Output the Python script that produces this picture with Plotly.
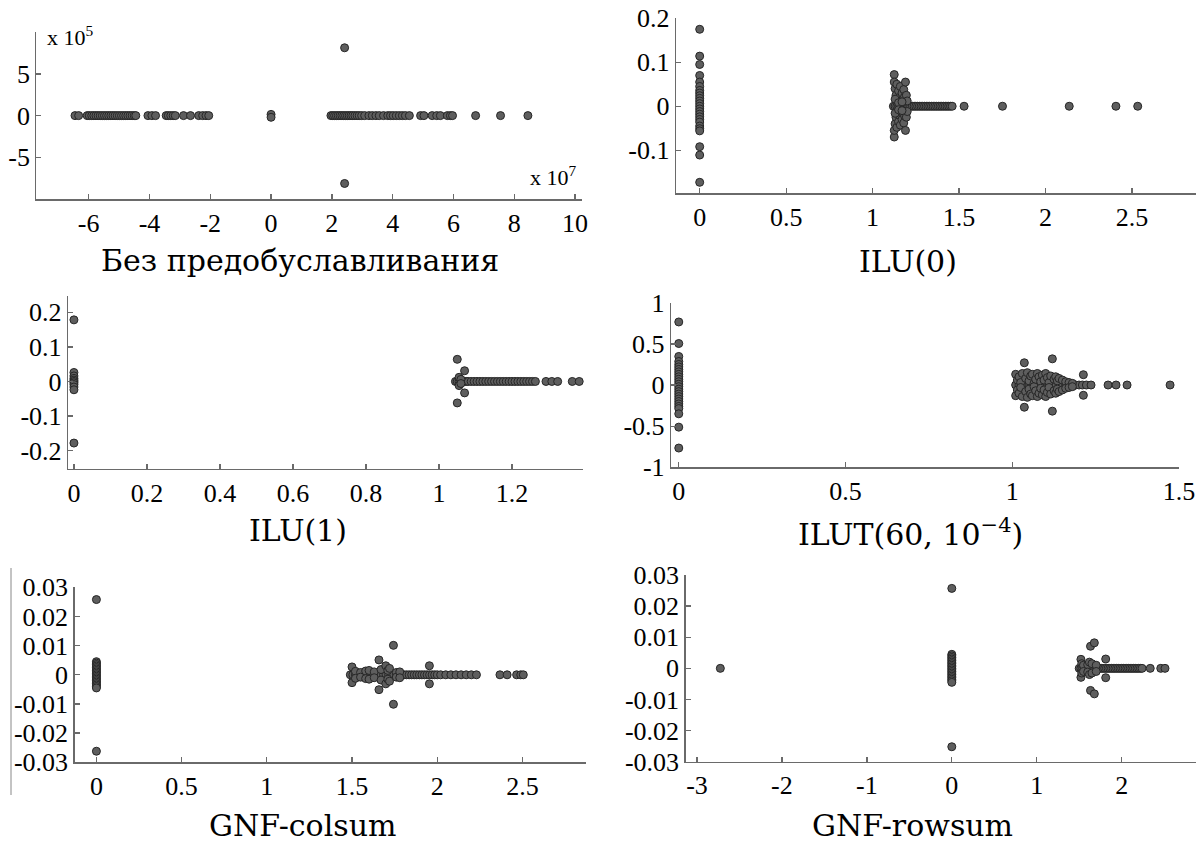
import plotly.graph_objects as go

W, H = 1196, 845

# ---------------- data ----------------
titles = ["Без предобуславливания", "ILU(0)", "ILU(1)",
          "ILUT(60, 10<sup>−4</sup>)", "GNF-colsum", "GNF-rowsum"]

# Panel 1 (x in units of 1e7, y in units of 1e5)
p1_real = [-6.45, -6.33, -6.05, -5.98, -5.9, -5.83, -5.76, -5.69, -5.62, -5.55, -5.48,
           -5.41, -5.34, -5.27, -5.2, -5.13, -5.06, -4.99, -4.92, -4.85, -4.78, -4.71,
           -4.64, -4.57, -4.5, -4.45, -4.05, -3.92, -3.8, -3.45, -3.38, -3.3, -3.22,
           -3.15, -2.88, -2.65, -2.38, -2.25, -2.14, -2.05,
           1.97, 2.03, 2.09, 2.15, 2.21, 2.27, 2.33, 2.39, 2.45, 2.51, 2.57, 2.63, 2.69,
           2.76, 2.83, 2.9, 2.98, 3.08, 3.22, 3.33, 3.45, 3.56, 3.7, 3.84, 3.93, 4.02,
           4.12, 4.22, 4.32, 4.42, 4.55, 4.92, 5.03, 5.3, 5.45, 5.57, 5.8, 5.9, 5.97,
           6.73, 7.55, 8.45]
p1_cx = [0.0, 0.0, 2.42, 2.42]
p1_cy = [0.15, -0.2, 8.15, -8.15]

# Panel 2: ILU(0)
p2_real = [1.12, 1.13, 1.14, 1.15, 1.16, 1.17, 1.18, 1.19, 1.2, 1.21, 1.22, 1.23, 1.24,
           1.25, 1.26, 1.27, 1.28, 1.29, 1.3, 1.31, 1.32, 1.33, 1.34, 1.35, 1.36, 1.37,
           1.38, 1.39, 1.4, 1.41, 1.42, 1.43, 1.44, 1.45, 1.46, 1.529, 1.751, 2.137,
           2.407, 2.533]
p2_cx = [0.0, 0.0, 0.0, 0.0, 0.0, 0.0, 0.0, 0.0, 0.0, 0.0, 0.0, 0.0, 0.0, 0.0, 0.0,
         0.0, 0.0, 0.0, 0.0, 0.0, 0.0, 0.0, 0.0, 0.0, 0.0,
         1.125, 1.125, 1.125, 1.125, 1.13, 1.13, 1.135, 1.135, 1.14, 1.14, 1.145, 1.145,
         1.15, 1.15, 1.155, 1.155, 1.16, 1.16, 1.165, 1.165, 1.17, 1.17, 1.175, 1.175,
         1.18, 1.18, 1.185, 1.185, 1.19, 1.19, 1.195, 1.195, 1.2, 1.2, 1.13, 1.13,
         1.15, 1.15, 1.17, 1.17]
p2_cy = [0.175, 0.114, 0.095, 0.07, 0.055, 0.045, 0.036, 0.03, 0.024, 0.018, 0.012,
         0.006, 0.0, -0.006, -0.012, -0.018, -0.024, -0.03, -0.036, -0.045, -0.051,
         -0.056, -0.092, -0.111, -0.173,
         0.072, -0.07, 0.055, -0.055, 0.04, -0.04, 0.025, -0.025, 0.05, -0.048, 0.012,
         -0.012, 0.035, -0.035, 0.02, -0.02, 0.045, -0.043, 0.008, -0.008, 0.03, -0.03,
         0.015, -0.015, 0.038, -0.038, 0.022, -0.022, 0.055, -0.055, 0.025, -0.025,
         0.012, -0.012, 0.016, -0.016, 0.008, -0.008, 0.01, -0.01]

# Panel 3: ILU(1)
p3_real = [1.045, 1.05, 1.055, 1.06, 1.065, 1.07, 1.075, 1.08, 1.088, 1.096, 1.104,
           1.112, 1.12, 1.128, 1.136, 1.144, 1.152, 1.16, 1.168, 1.176, 1.184, 1.192,
           1.2, 1.208, 1.216, 1.224, 1.232, 1.24, 1.248, 1.256, 1.264, 1.293, 1.309,
           1.325, 1.365, 1.384]
p3_cx = [0.0, 0.0, 0.0, 0.0, 0.0, 0.0, 0.0, 0.0, 0.0, 0.0, 0.0,
         1.05, 1.05, 1.07, 1.07, 1.055, 1.055, 1.06, 1.06]
p3_cy = [0.178, 0.026, 0.016, 0.009, 0.004, 0.0, -0.004, -0.009, -0.016, -0.024, -0.178,
         0.064, -0.062, 0.031, -0.033, 0.012, -0.012, 0.006, -0.006]

# Panel 4: ILUT(60, 1e-4)
p4_real = [1.01, 1.02, 1.03, 1.04, 1.05, 1.06, 1.07, 1.08, 1.09, 1.1, 1.11, 1.12, 1.13,
           1.14, 1.15, 1.16, 1.17, 1.18, 1.19, 1.2, 1.21, 1.222, 1.236, 1.287, 1.311,
           1.344, 1.473]
p4_cx = [0.0, 0.0, 0.0, 0.0, 0.0, 0.0, 0.0, 0.0, 0.0, 0.0, 0.0, 0.0, 0.0, 0.0, 0.0,
         0.0, 0.0, 0.0, 0.0, 0.0, 0.0, 0.0, 0.0, 0.0, 0.0, 0.0,
         1.01, 1.01, 1.015, 1.015, 1.02, 1.02, 1.025, 1.025, 1.03, 1.03, 1.036, 1.036,
         1.04, 1.04, 1.045, 1.045, 1.05, 1.05, 1.055, 1.055, 1.06, 1.06, 1.065, 1.065,
         1.07, 1.07, 1.075, 1.075, 1.08, 1.08, 1.085, 1.085, 1.09, 1.09, 1.095, 1.095,
         1.1, 1.1, 1.105, 1.105, 1.11, 1.11, 1.115, 1.115, 1.12, 1.12, 1.125, 1.125,
         1.13, 1.13, 1.135, 1.135, 1.14, 1.14, 1.15, 1.15, 1.16, 1.16, 1.17, 1.17,
         1.18, 1.18, 1.213, 1.213]
p4_cy = [0.766, 0.504, 0.347, 0.286, 0.25, 0.22, 0.19, 0.16, 0.13, 0.1, 0.07, 0.04,
         0.01, -0.02, -0.05, -0.08, -0.11, -0.14, -0.17, -0.2, -0.23, -0.26, -0.286,
         -0.35, -0.512, -0.766,
         0.13, -0.13, 0.06, -0.06, 0.1, -0.1, 0.03, -0.03, 0.14, -0.14, 0.27, -0.27,
         0.08, -0.08, 0.15, -0.15, 0.05, -0.05, 0.11, -0.11, 0.13, -0.13, 0.02, -0.02,
         0.07, -0.07, 0.14, -0.14, 0.1, -0.1, 0.04, -0.04, 0.12, -0.12, 0.06, -0.06,
         0.14, -0.14, 0.09, -0.09, 0.03, -0.03, 0.11, -0.11, 0.318, -0.318, 0.07, -0.07,
         0.1, -0.1, 0.05, -0.05, 0.08, -0.08, 0.06, -0.06, 0.04, -0.04, 0.03, -0.03,
         0.02, -0.02, 0.125, -0.125]

# Panel 5: GNF-colsum
p5_real = [1.49, 1.505, 1.52, 1.535, 1.55, 1.565, 1.58, 1.595, 1.61, 1.625, 1.64, 1.655,
           1.67, 1.685, 1.7, 1.715, 1.73, 1.745, 1.76, 1.775, 1.79, 1.805, 1.82, 1.835,
           1.85, 1.865, 1.88, 1.895, 1.91, 1.925, 1.94, 1.955, 1.97, 1.985, 2.0, 2.02,
           2.05, 2.08, 2.11, 2.14, 2.17, 2.2, 2.23, 2.368, 2.41, 2.466, 2.49, 2.505]
p5_cx = [0.0, 0.0, 0.0, 0.0, 0.0, 0.0, 0.0, 0.0, 0.0, 0.0, 0.0, 0.0, 0.0, 0.0, 0.0,
         0.0, 0.0, 0.0, 0.0, 0.0, 0.0,
         1.5, 1.5, 1.52, 1.52, 1.55, 1.55, 1.58, 1.58, 1.6, 1.6, 1.63, 1.63, 1.658,
         1.658, 1.67, 1.67, 1.698, 1.698, 1.71, 1.71, 1.72, 1.72, 1.743, 1.743, 1.76,
         1.76, 1.78, 1.78, 1.954, 1.954]
p5_cy = [0.0258, 0.0045, 0.004, 0.0035, 0.003, 0.0025, 0.002, 0.0015, 0.001, 0.0005,
         0.0, -0.0005, -0.001, -0.0015, -0.002, -0.0025, -0.003, -0.0035, -0.004,
         -0.0045, -0.0262,
         0.0027, -0.0027, 0.0012, -0.0012, 0.0008, -0.0008, 0.0013, -0.0013, 0.0015,
         -0.0015, 0.001, -0.001, 0.0051, -0.0051, 0.0018, -0.0018, 0.0031, -0.0031,
         0.0015, -0.0015, 0.0022, -0.0022, 0.0101, -0.0101, 0.0008, -0.0008, 0.001,
         -0.001, 0.0031, -0.0031]

# Panel 6: GNF-rowsum
p6_real = [-2.725, 1.5, 1.52, 1.54, 1.56, 1.58, 1.6, 1.62, 1.64, 1.66, 1.68, 1.7, 1.72,
           1.74, 1.76, 1.78, 1.8, 1.82, 1.84, 1.86, 1.88, 1.9, 1.92, 1.94, 1.96, 1.98,
           2.0, 2.02, 2.04, 2.06, 2.08, 2.1, 2.12, 2.14, 2.16, 2.18, 2.2, 2.22, 2.24,
           2.336, 2.46, 2.51]
p6_cx = [0.0, 0.0, 0.0, 0.0, 0.0, 0.0, 0.0, 0.0, 0.0, 0.0, 0.0, 0.0, 0.0, 0.0, 0.0,
         0.0, 0.0, 0.0, 0.0, 0.0, 0.0,
         1.52, 1.52, 1.53, 1.53, 1.55, 1.55, 1.6, 1.6, 1.62, 1.62, 1.633, 1.633, 1.65,
         1.65, 1.678, 1.678, 1.7, 1.7, 1.812, 1.812]
p6_cy = [0.0257, 0.0045, 0.004, 0.0035, 0.003, 0.0025, 0.002, 0.0015, 0.001, 0.0005,
         0.0, -0.0005, -0.001, -0.0015, -0.002, -0.0025, -0.003, -0.0035, -0.004,
         -0.0045, -0.0252,
         0.0029, -0.0029, 0.0015, -0.0015, 0.001, -0.001, 0.0012, -0.0012, 0.002,
         -0.002, 0.0071, -0.0071, 0.0015, -0.0015, 0.0082, -0.0082, 0.001, -0.001,
         0.003, -0.003]

# tick values / labels
p1_xt = [-6, -4, -2, 0, 2, 4, 6, 8, 10]
p1_xl = ["-6", "-4", "-2", "0", "2", "4", "6", "8", "10"]
p1_yt = [-5, 0, 5]
p1_yl = ["-5", "0", "5"]
p2_xt = [0, 0.5, 1, 1.5, 2, 2.5]
p2_xl = ["0", "0.5", "1", "1.5", "2", "2.5"]
p2_yt = [-0.1, 0, 0.1, 0.2]
p2_yl = ["-0.1", "0", "0.1", "0.2"]
p3_xt = [0, 0.2, 0.4, 0.6, 0.8, 1, 1.2]
p3_xl = ["0", "0.2", "0.4", "0.6", "0.8", "1", "1.2"]
p3_yt = [-0.2, -0.1, 0, 0.1, 0.2]
p3_yl = ["-0.2", "-0.1", "0", "0.1", "0.2"]
p4_xt = [0, 0.5, 1, 1.5]
p4_xl = ["0", "0.5", "1", "1.5"]
p4_yt = [-1, -0.5, 0, 0.5, 1]
p4_yl = ["-1", "-0.5", "0", "0.5", "1"]
p5_xt = [0, 0.5, 1, 1.5, 2, 2.5]
p5_xl = ["0", "0.5", "1", "1.5", "2", "2.5"]
p6_xt = [-3, -2, -1, 0, 1, 2]
p6_xl = ["-3", "-2", "-1", "0", "1", "2"]
gnf_yt = [-0.03, -0.02, -0.01, 0, 0.01, 0.02, 0.03]
gnf_yl = ["-0.03", "-0.02", "-0.01", "0", "0.01", "0.02", "0.03"]

# ---------------- layout geometry (pixels) ----------------
boxes = [  # x0, x1, y_top, y_bottom
    (36.4, 581.7, 31.7, 199.3),
    (676.0, 1196.0, 18.3, 193.3),
    (68.1, 582.5, 296.0, 469.0),
    (671.1, 1179.1, 302.7, 467.3),
    (74.6, 585.5, 587.3, 762.3),
    (685.6, 1196.0, 575.0, 761.7),
]
xranges = [[-7.72, 10.22], [-0.137, 2.87], [-0.016, 1.393], [-0.023, 1.5],
           [-0.128, 2.87], [-3.134, 2.875]]
yranges = [[-10.05, 10.08], [-0.198, 0.2], [-0.253, 0.247], [-1.0, 1.0],
           [-0.03, 0.03], [-0.03, 0.03]]
title_pos = [(300, 260), (908, 262), (298, 530), (910, 532), (302, 825), (912, 825)]

panels = [
    (p1_real, p1_cx, p1_cy, p1_xt, p1_xl, p1_yt, p1_yl),
    (p2_real, p2_cx, p2_cy, p2_xt, p2_xl, p2_yt, p2_yl),
    (p3_real, p3_cx, p3_cy, p3_xt, p3_xl, p3_yt, p3_yl),
    (p4_real, p4_cx, p4_cy, p4_xt, p4_xl, p4_yt, p4_yl),
    (p5_real, p5_cx, p5_cy, p5_xt, p5_xl, gnf_yt, gnf_yl),
    (p6_real, p6_cx, p6_cy, p6_xt, p6_xl, gnf_yt, gnf_yl),
]

SERIF = "Liberation Serif, Times New Roman, Times, serif"
TSERIF = "DejaVu Serif, Liberation Serif, serif"
marker = dict(size=8, color="#5e5e5e", line=dict(color="#262626", width=1))
tickfont = dict(family=SERIF, size=26, color="black")
AX = "#6a6a6a"

fig = go.Figure()
layout = dict(width=W, height=H, margin=dict(l=0, r=0, t=0, b=0, pad=0),
              paper_bgcolor="white", plot_bgcolor="white", showlegend=False,
              font=dict(family=SERIF, size=26, color="black"),
              annotations=[], shapes=[])

for i, (real, cx, cy, xt, xl, yt, yl) in enumerate(panels):
    n = i + 1
    xa = "x" if n == 1 else f"x{n}"
    ya = "y" if n == 1 else f"y{n}"
    xs = list(real) + list(cx)
    ys = [0.0] * len(real) + list(cy)
    fig.add_trace(go.Scatter(x=xs, y=ys, mode="markers", marker=marker,
                             xaxis=xa, yaxis=ya, cliponaxis=False, hoverinfo="skip"))
    x0, x1, yt0, yb0 = boxes[i]
    common = dict(showline=True, linecolor=AX, linewidth=1.3, ticks="inside",
                  ticklen=5, tickwidth=1.3, tickcolor=AX, showgrid=False,
                  zeroline=False, tickfont=tickfont, mirror=False, automargin=False)
    layout["xaxis" if n == 1 else f"xaxis{n}"] = dict(
        domain=[x0 / W, x1 / W], range=xranges[i], anchor=ya,
        tickvals=xt, ticktext=xl, **common)
    layout["yaxis" if n == 1 else f"yaxis{n}"] = dict(
        domain=[1 - yb0 / H, 1 - yt0 / H], range=yranges[i], anchor=xa,
        tickvals=yt, ticktext=yl, **common)
    tx, ty = title_pos[i]
    layout["annotations"].append(dict(
        text=titles[i], x=tx / W, y=1 - ty / H, xref="paper", yref="paper",
        xanchor="center", yanchor="middle", showarrow=False,
        font=dict(family=TSERIF, size=30, color="black")))

# exponent labels of panel 1
layout["annotations"].append(dict(
    text="x 10<sup>5</sup>", x=45 / W, y=1 - 36 / H, xref="paper", yref="paper",
    xanchor="left", yanchor="middle", showarrow=False,
    font=dict(family=SERIF, size=22, color="black")))
layout["annotations"].append(dict(
    text="x 10<sup>7</sup>", x=528 / W, y=1 - 176 / H, xref="paper", yref="paper",
    xanchor="left", yanchor="middle", showarrow=False,
    font=dict(family=SERIF, size=22, color="black")))

# thin stray frame line at the left of the bottom-left panel
layout["shapes"].append(dict(type="line", xref="paper", yref="paper",
                             x0=11 / W, x1=11 / W, y0=1 - 568 / H, y1=1 - 795 / H,
                             line=dict(color="#888888", width=1)))

fig.update_layout(**layout)
fig.write_html("out.html",
               config={"displayModeBar": False, "staticPlot": True},
               post_script="document.body.style.margin='0';"
                           "document.body.style.overflow='hidden';")
